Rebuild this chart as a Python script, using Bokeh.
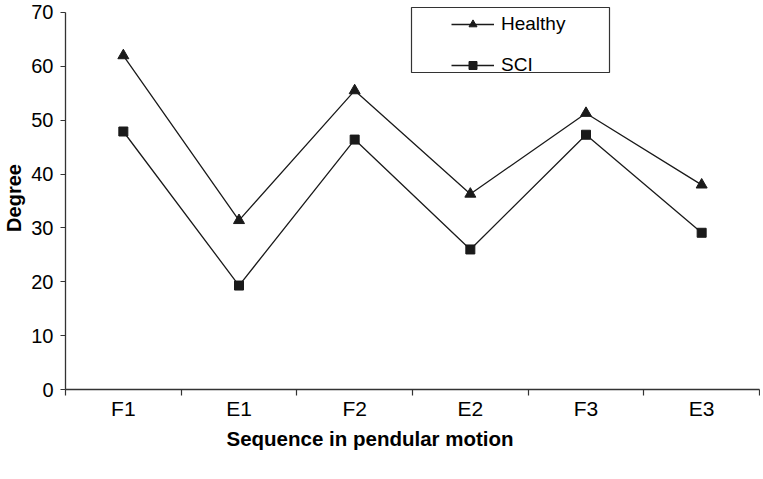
from bokeh.plotting import figure
from bokeh.models import FixedTicker, Range1d, Legend, LegendItem, BoxAnnotation, Title
from bokeh.embed import file_html
from bokeh.resources import INLINE

categories = ["F1", "E1", "F2", "E2", "F3", "E3"]
healthy = [62.0, 31.4, 55.5, 36.3, 51.3, 38.0]
sci = [47.9, 19.3, 46.4, 26.0, 47.3, 29.1]
y_ticks = [0, 10, 20, 30, 40, 50, 60, 70]

xs = [i + 0.5 for i in range(len(categories))]
bounds = list(range(len(categories) + 1))

FONT = "Liberation Sans"
INK = "#1a1a1a"

# frame top sits a few pixels above the 70 line so the legend frame fits inside
p = figure(width=760, height=476, x_range=Range1d(0, len(categories)), y_range=Range1d(0, 71.11),
           output_backend="svg", toolbar_location=None,
           min_border_left=64, min_border_right=1, min_border_top=6, min_border_bottom=87)
p.outline_line_color = None
p.xgrid.visible = False
p.ygrid.visible = False
p.background_fill_color = "white"
p.border_fill_color = "white"

lh = p.line(xs, healthy, line_color=INK, line_width=1.3)
sh = p.scatter(xs, healthy, marker="triangle", size=11, fill_color=INK, line_color=INK)
ls = p.line(xs, sci, line_color=INK, line_width=1.3)
ss = p.scatter(xs, sci, marker="square", size=9, fill_color=INK, line_color=INK)

# y axis
ya = p.yaxis[0]
ya.ticker = FixedTicker(ticks=y_ticks)
ya.bounds = (y_ticks[0], y_ticks[-1])
ya.minor_tick_line_color = None
ya.major_tick_in = 0
ya.major_tick_out = 5
ya.major_label_standoff = 7
ya.major_label_text_font = FONT
ya.major_label_text_font_size = "20px"
ya.major_label_text_color = "black"
ya.axis_line_color = "#333333"
ya.axis_line_width = 1.3
ya.major_tick_line_color = "#333333"
ya.axis_label = "Degree"
ya.axis_label_text_font = FONT
ya.axis_label_text_font_style = "bold"
ya.axis_label_text_font_size = "20px"
ya.axis_label_standoff = 3
ya.axis_label_text_color = "black"

# x axis
xa = p.xaxis[0]
xa.ticker = FixedTicker(ticks=xs, minor_ticks=bounds)
xa.major_label_overrides = dict(zip(xs, categories))
xa.major_tick_in = 0
xa.major_tick_out = 0
xa.minor_tick_in = 0
xa.minor_tick_out = 6
xa.minor_tick_line_color = "#333333"
xa.minor_tick_line_width = 1.2
xa.major_label_standoff = 1
xa.major_label_text_font = FONT
xa.major_label_text_font_size = "21px"
xa.major_label_text_color = "black"
xa.axis_line_color = "#333333"
xa.axis_line_width = 1.3

t = Title(text="Sequence in pendular motion", align="left", offset=161,
          text_font=FONT, text_font_style="bold", text_font_size="20.5px",
          text_color="black", standoff=5)
p.add_layout(t, "below")

legend = Legend(items=[LegendItem(label="Healthy", renderers=[lh, sh]),
                       LegendItem(label="SCI", renderers=[ls, ss])],
                location=(386, 313), padding=0, margin=0, spacing=19,
                glyph_width=43, glyph_height=20, label_standoff=7,
                label_text_font=FONT, label_text_font_size="19px",
                label_text_color="black", border_line_color=None,
                background_fill_alpha=0)
p.add_layout(legend, "center")

box = BoxAnnotation(left=411, right=609, top=7, bottom=72,
                    left_units="canvas", right_units="canvas",
                    bottom_units="canvas", top_units="canvas",
                    fill_alpha=0, line_color="#333333", line_width=1.2, line_alpha=1)
p.add_layout(box)

open("out.html", "w").write(file_html(p, INLINE))
